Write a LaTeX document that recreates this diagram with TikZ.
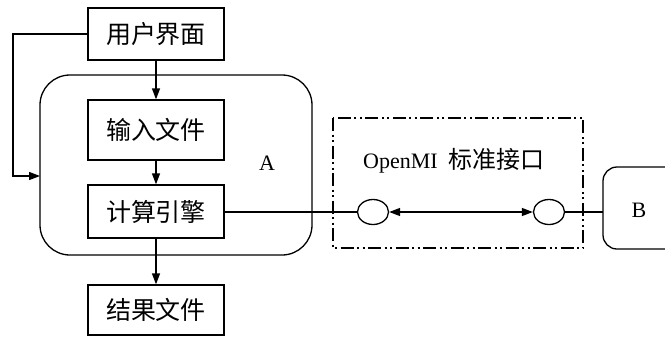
\documentclass[tikz,border=0pt]{standalone}
\usepackage{fontspec}
\setmainfont{Liberation Serif}
\newfontfamily\cjk{Noto Sans CJK SC}
\usetikzlibrary{arrows.meta,shapes.geometric}
\begin{document}
\begin{tikzpicture}[x=1pt,y=-1pt,
  line width=1.3pt,
  boxnode/.style={draw,minimum width=136pt,minimum height=52pt,inner sep=0pt,font=\cjk\fontsize{25}{28}\selectfont},
  port/.style={draw,ellipse,minimum width=31pt,minimum height=25pt,inner sep=0pt},
  arr/.style={-{Triangle[length=11pt,width=8pt]}},
  dblarr/.style={{Triangle[length=11pt,width=8pt]}-{Triangle[length=11pt,width=8pt]}},
  lbl/.style={font=\fontsize{22}{25}\selectfont}]
\useasboundingbox (0,0) rectangle (665,338);
\fill[white] (0,0) rectangle (665,338);
% container A
\draw[rounded corners=30pt] (40,75) rectangle (312,255);
\node[lbl] (la) at (267,163) {A};
% boxes
\node[boxnode] (ui) at (156,34) {用户界面};
\node[boxnode,minimum height=60pt] (in) at (156,130) {输入文件};
\node[boxnode,minimum height=53pt] (ce) at (156,211.5) {计算引擎};
\node[boxnode,minimum height=50pt] (out) at (156,310) {结果文件};
\coordinate (aleft) at (40,176);
% connectors
\draw[arr] (ui.south) -- (in.north);
\draw[arr] (in.south) -- (ce.north);
\draw[arr] (ce.south) -- (out.north);
\draw[arr] (ui.west) -- (13,34) -- (13,176) -- (aleft);
% OpenMI interface
\draw[line width=2.2pt,dash pattern=on 13pt off 3.5pt on 2pt off 3.5pt on 2pt off 3.5pt] (333,118) rectangle (583,248);
\node[lbl] (om) at (454,161) {OpenMI\hspace{0.5em}{\cjk\fontsize{24}{27}\selectfont 标准接口}};
\node[port] (p1) at (373,212) {};
\node[port] (p2) at (549,212) {};
\draw (ce.east |- p1) -- (p1.west);
\draw[dblarr] (p1.east) -- (p2.west);
% B
\draw[rounded corners=14pt] (690,167) -- (603,167) -- (603,249) -- (690,249);
\coordinate (bl) at (603,212);
\node[lbl] (lb) at (639,210) {B};
\draw (p2.east) -- (bl);
\end{tikzpicture}
\end{document}
